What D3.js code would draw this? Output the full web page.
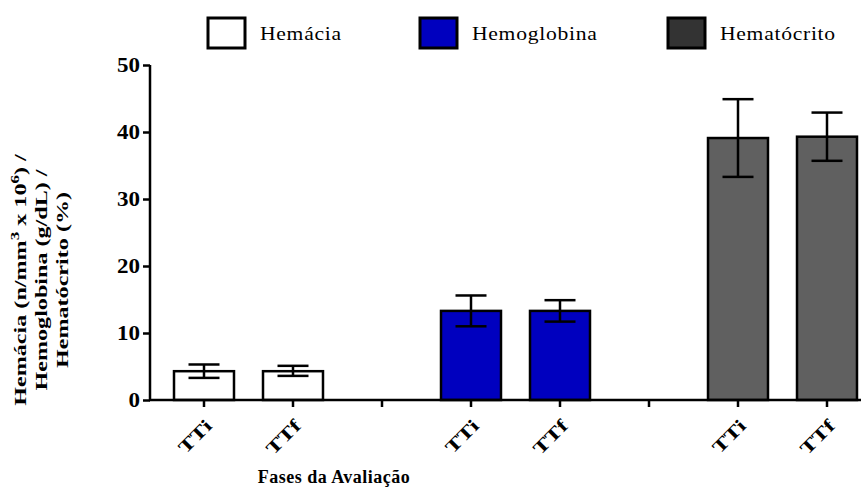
<html>
<head>
<script src="https://d3js.org/d3.v7.min.js"></script>
<style>
  body { margin: 0; background: #fff; }
  text { font-family: "Liberation Serif", "Times New Roman", serif; }
</style>
</head>
<body>
<svg id="chart" width="861" height="489"></svg>
<script>

// data
var groups = ["Hemácia", "Hemoglobina", "Hematócrito"];
var phases = ["TTi", "TTf"];
var means  = [[4.3, 4.3], [13.3, 13.3], [39.1, 39.3]];
var upper  = [[5.3, 5.1], [15.6, 14.9], [44.9, 42.9]];
var lower  = [[3.3, 3.6], [11.0, 11.7], [33.3, 35.7]];
var yTicks = [0, 10, 20, 30, 40, 50];
var colors = ["#ffffff", "#0000bf", "#606060"];
var legendColors = ["#ffffff", "#0000bf", "#333333"];

var svg = d3.select("#chart");

// slots: two bars per group plus an empty slot between groups
var slots = [];
var bars = [];
groups.forEach(function(g, i) {
  phases.forEach(function(p, j) {
    var id = g + "-" + p;
    slots.push(id);
    bars.push({id: id, group: i, phase: p, mean: means[i][j], hi: upper[i][j], lo: lower[i][j]});
  });
  if (i < groups.length - 1) slots.push("gap" + i);
});

var x = d3.scaleBand()
  .domain(slots)
  .range([159.5, 871.5])
  .paddingInner(0.326)
  .paddingOuter(0.163);

var y = d3.scaleLinear()
  .domain([0, 50])
  .range([400, 65]);

// bars
svg.append("g").selectAll("rect")
  .data(bars)
  .enter()
  .append("rect")
    .attr("x", function(d) { return x(d.id); })
    .attr("y", function(d) { return y(d.mean); })
    .attr("width", x.bandwidth())
    .attr("height", function(d) { return y(0) - y(d.mean); })
    .style("fill", function(d) { return colors[d.group]; })
    .style("stroke", "#000")
    .style("stroke-width", 2.5);

// error bars
var capW = 31;
var eb = svg.append("g").selectAll("g")
  .data(bars)
  .enter()
  .append("g")
  .style("stroke", "#000")
  .style("stroke-width", 2.5);
eb.append("line")
  .attr("x1", function(d) { return x(d.id) + x.bandwidth() / 2; })
  .attr("x2", function(d) { return x(d.id) + x.bandwidth() / 2; })
  .attr("y1", function(d) { return y(d.hi); })
  .attr("y2", function(d) { return y(d.lo); });
eb.append("line")
  .attr("x1", function(d) { return x(d.id) + x.bandwidth() / 2 - capW / 2; })
  .attr("x2", function(d) { return x(d.id) + x.bandwidth() / 2 + capW / 2; })
  .attr("y1", function(d) { return y(d.hi); })
  .attr("y2", function(d) { return y(d.hi); });
eb.append("line")
  .attr("x1", function(d) { return x(d.id) + x.bandwidth() / 2 - capW / 2; })
  .attr("x2", function(d) { return x(d.id) + x.bandwidth() / 2 + capW / 2; })
  .attr("y1", function(d) { return y(d.lo); })
  .attr("y2", function(d) { return y(d.lo); });

// Y axis
var yAxis = svg.append("g")
  .attr("transform", "translate(150,0)")
  .call(d3.axisLeft(y).tickValues(yTicks).tickSize(7));
yAxis.select(".domain").attr("d", "M0," + y(50) + "V" + (y(0) + 1)).style("stroke-width", 2.5);
yAxis.selectAll(".tick line").style("stroke-width", 2.5);
yAxis.selectAll("text")
  .attr("x", 0)
  .attr("transform", "translate(-10,0) scale(1.15,1)")
  .style("font-family", "Liberation Serif, serif")
  .style("font-size", "20px")
  .style("font-weight", "bold")
  .attr("fill", "#000");

// X axis
var xAxis = svg.append("g")
  .attr("transform", "translate(0,400)")
  .call(d3.axisBottom(x).tickSize(7).tickFormat(""));
xAxis.select(".domain").attr("d", "M149,0H861").style("stroke-width", 2.5);
xAxis.selectAll(".tick line").style("stroke-width", 2.5);

// rotated phase labels
svg.append("g").selectAll("text")
  .data(bars)
  .enter()
  .append("text")
    .attr("transform", function(d) {
      var cx = x(d.id) + x.bandwidth() / 2;
      return "translate(" + (cx + 9) + ",427) rotate(-45) scale(1.35,1)";
    })
    .attr("text-anchor", "end")
    .style("font-size", "18px")
    .style("font-weight", "bold")
    .text(function(d) { return d.phase; });

// axis titles
svg.append("text")
  .attr("x", 334)
  .attr("y", 483)
  .attr("text-anchor", "middle")
  .style("font-size", "18px")
  .style("font-weight", "bold")
  .style("letter-spacing", "0.5px")
  .text("Fases da Avaliação");

var yt = svg.append("text")
  .attr("transform", "translate(0,280) rotate(-90) scale(1.42,1)")
  .attr("text-anchor", "middle")
  .style("font-size", "17px")
  .style("font-weight", "bold");
var l1 = yt.append("tspan").attr("x", 0).attr("y", 26);
l1.append("tspan").text("Hemácia (n/mm");
l1.append("tspan").attr("dy", -7).style("font-size", "12px").text("3");
l1.append("tspan").attr("dy", 7).text(" x 10");
l1.append("tspan").attr("dy", -7).style("font-size", "12px").text("6");
l1.append("tspan").attr("dy", 7).text(") /");
yt.append("tspan").attr("x", 0).attr("y", 47).text("Hemoglobina (g/dL) /");
yt.append("tspan").attr("x", 0).attr("y", 68).text("Hematócrito (%)");

// legend
var legX = [208, 420, 668];
var leg = svg.append("g").selectAll("g")
  .data(groups)
  .enter()
  .append("g")
  .attr("transform", function(d, i) { return "translate(" + legX[i] + ",18)"; });
leg.append("rect")
  .attr("width", 37)
  .attr("height", 30)
  .style("fill", function(d, i) { return legendColors[i]; })
  .style("stroke", "#000")
  .style("stroke-width", 3);
leg.append("text")
  .attr("transform", "translate(52,22) scale(1.2,1)")
  .style("font-size", "18px")
  .style("letter-spacing", "0.6px")
  .text(function(d) { return d; });

</script>
</body>
</html>
